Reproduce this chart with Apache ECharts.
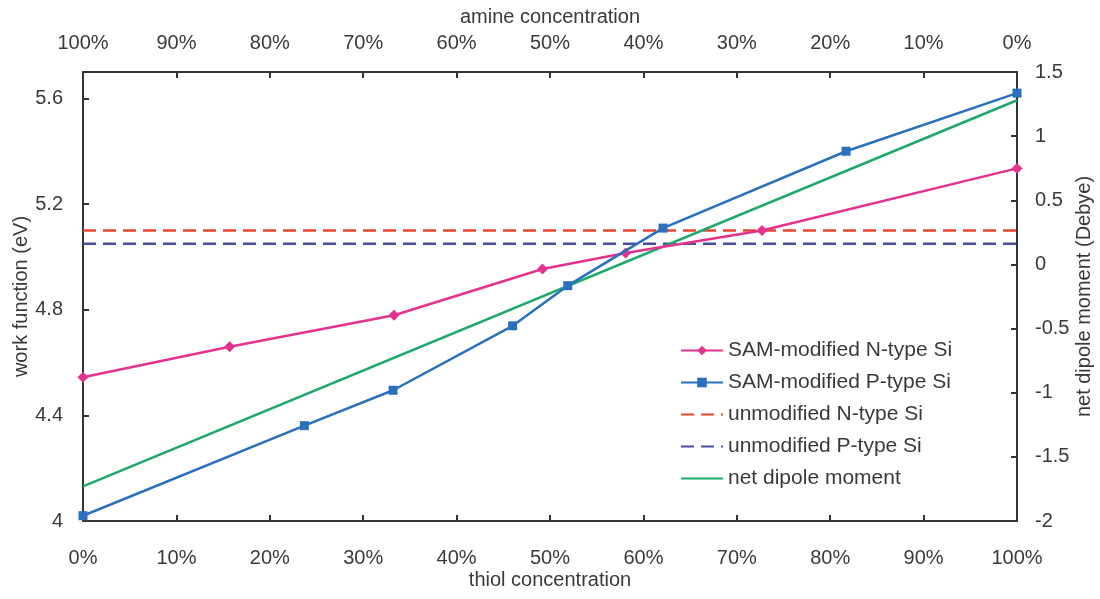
<!DOCTYPE html>
<html>
<head>
<meta charset="utf-8">
<script src="https://cdn.jsdelivr.net/npm/echarts@6/dist/echarts.min.js"></script>
<style>
  html, body { margin: 0; padding: 0; background: #fff; }
  #chart { width: 1100px; height: 599px; }
</style>
</head>
<body>
<div id="chart"></div>
<script>
// Thiol concentration (%) at each measured point, and work function (eV)
const nTypeThiol = [0, 15.7, 33.3, 49.2, 58.1, 72.7, 100];
const nTypeWork  = [4.544, 4.660, 4.779, 4.954, 5.015, 5.100, 5.335];

const pTypeThiol = [0, 23.7, 33.2, 46.0, 51.9, 62.1, 81.7, 100];
const pTypeWork  = [4.02, 4.361, 4.495, 4.739, 4.891, 5.109, 5.400, 5.62];

// Reference work functions of bare silicon (eV)
const unmodN = 5.10;
const unmodP = 5.05;

// Net dipole moment (Debye) vs thiol concentration
const dipoleThiol = [0, 100];
const dipoleValue = [-1.73, 1.28];

const seriesNames = [
  'SAM-modified N-type Si',
  'SAM-modified P-type Si',
  'unmodified N-type Si',
  'unmodified P-type Si',
  'net dipole moment'
];

const pair = (xs, ys) => xs.map((x, i) => [x, ys[i]]);

const FONT = 'Liberation Sans, Arial, sans-serif';
const TXT = '#3a3a3a';
const AX = '#333';

const axisCommon = {
  axisLine: { show: true, onZero: false, lineStyle: { color: AX, width: 2 } },
  axisTick: { show: true, inside: true, length: 6, lineStyle: { color: AX, width: 2 } },
  splitLine: { show: false },
  nameMoveOverlap: false,
  nameTextStyle: { fontFamily: FONT, fontSize: 20, color: TXT },
};

const labelStyle = { fontFamily: FONT, fontSize: 20, color: TXT };

const chart = echarts.init(document.getElementById('chart'), null, { renderer: 'canvas' });

chart.setOption({
  animation: false,
  backgroundColor: '#fff',
  grid: { left: 83, right: 83, top: 72, bottom: 78, containLabel: false, outerBoundsMode: 'none' },
  legend: {
    orient: 'vertical',
    left: 675,
    top: 335,
    itemWidth: 42,
    itemHeight: 12,
    itemGap: 11,
    textStyle: { fontFamily: FONT, fontSize: 21, lineHeight: 21, color: TXT },
    data: [
      { name: seriesNames[0] },
      { name: seriesNames[1] },
      { name: seriesNames[2], itemStyle: { opacity: 0 } },
      { name: seriesNames[3], itemStyle: { opacity: 0 } },
      { name: seriesNames[4], itemStyle: { opacity: 0 } }
    ]
  },
  xAxis: [
    Object.assign({}, axisCommon, {
      type: 'value', position: 'bottom', min: 0, max: 100, interval: 10,
      name: 'thiol concentration', nameLocation: 'middle', nameGap: 49,
      axisLabel: Object.assign({ formatter: '{value}%', margin: 27 }, labelStyle)
    }),
    Object.assign({}, axisCommon, {
      type: 'value', position: 'top', min: 0, max: 100, interval: 10, inverse: true,
      name: 'amine concentration', nameLocation: 'middle', nameGap: 45,
      axisLabel: Object.assign({ formatter: '{value}%', margin: 19 }, labelStyle)
    })
  ],
  yAxis: [
    Object.assign({}, axisCommon, {
      type: 'value', position: 'left', min: 4, max: 5.7, interval: 0.4,
      name: 'work function (eV)', nameLocation: 'middle', nameGap: 52,
      axisLabel: Object.assign({ showMaxLabel: false, margin: 20 }, labelStyle)
    }),
    Object.assign({}, axisCommon, {
      type: 'value', position: 'right', min: -2, max: 1.5, interval: 0.5,
      name: 'net dipole moment (Debye)', nameLocation: 'middle', nameGap: 57,
      axisLabel: Object.assign({ margin: 18 }, labelStyle)
    })
  ],
  series: [
    {
      name: seriesNames[0], type: 'line', xAxisIndex: 0, yAxisIndex: 0,
      data: pair(nTypeThiol, nTypeWork),
      symbol: 'diamond', symbolSize: 11, showAllSymbol: true,
      itemStyle: { color: '#e4338d' },
      lineStyle: { color: '#e4338d', width: 2.5 },
      z: 4
    },
    {
      name: seriesNames[1], type: 'line', xAxisIndex: 0, yAxisIndex: 0,
      data: pair(pTypeThiol, pTypeWork),
      symbol: 'rect', symbolSize: 9, showAllSymbol: true,
      itemStyle: { color: '#2a70bd' },
      lineStyle: { color: '#2a70bd', width: 2.5 },
      z: 5
    },
    {
      name: seriesNames[2], type: 'line', xAxisIndex: 0, yAxisIndex: 0,
      data: [[0, unmodN], [100, unmodN]],
      symbol: 'none',
      itemStyle: { color: '#e8452e' },
      lineStyle: { color: '#e8452e', width: 2.5, type: [13, 7] },
      z: 2
    },
    {
      name: seriesNames[3], type: 'line', xAxisIndex: 0, yAxisIndex: 0,
      data: [[0, unmodP], [100, unmodP]],
      symbol: 'none',
      itemStyle: { color: '#4b4c9e' },
      lineStyle: { color: '#4b4c9e', width: 2.5, type: [13, 7] },
      z: 2
    },
    {
      name: seriesNames[4], type: 'line', xAxisIndex: 0, yAxisIndex: 1,
      data: pair(dipoleThiol, dipoleValue),
      symbol: 'none',
      itemStyle: { color: '#1ea86c' },
      lineStyle: { color: '#1ea86c', width: 2.5 },
      z: 3
    }
  ]
});
</script>
</body>
</html>
